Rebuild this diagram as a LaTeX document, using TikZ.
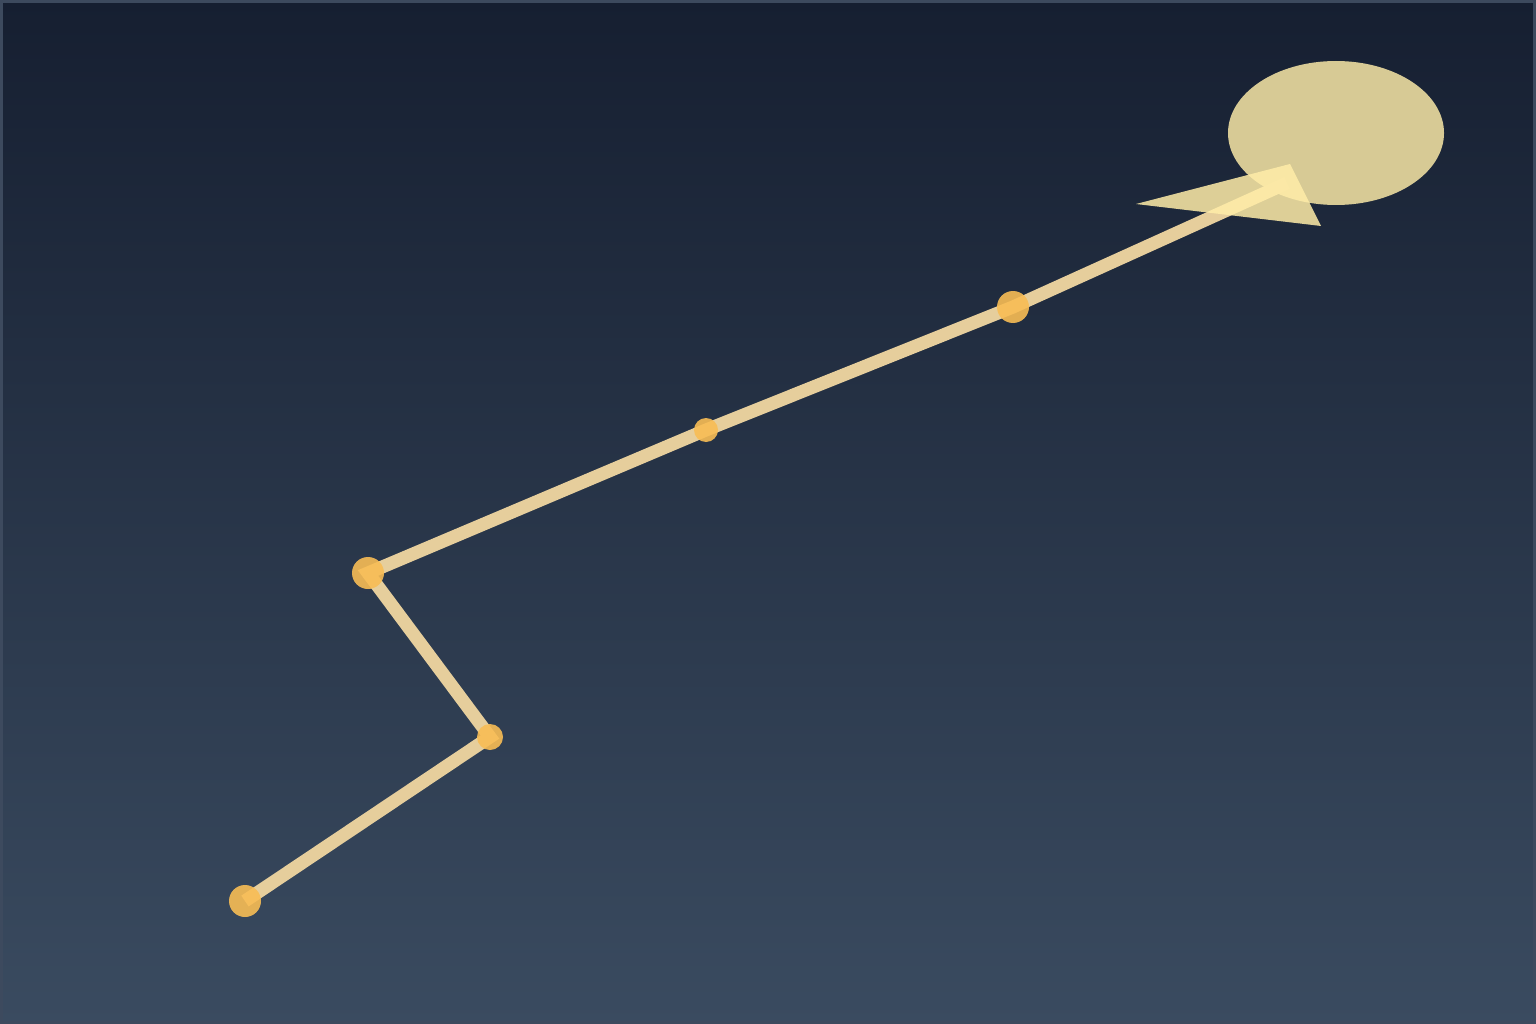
\documentclass[tikz,border=0pt]{standalone}
\usetikzlibrary{shapes.geometric}
\definecolor{bgtop}{HTML}{161F31}
\definecolor{bgbot}{HTML}{3A4B60}
\definecolor{frame}{HTML}{3D4A5E}
\definecolor{pathcol}{HTML}{E6CE9C}
\definecolor{dotcol}{HTML}{F8BD55}
\definecolor{ellcol}{HTML}{D7CA95}
\definecolor{tipcol}{HTML}{FFEDA8}
\tikzset{
  dotnode/.style={circle,fill=dotcol,fill opacity=0.9,inner sep=0pt,minimum size=#1},
  trail/.style={draw=pathcol,line width=13pt,line join=miter,line cap=butt}
}
\begin{document}
\begin{tikzpicture}[x=1pt,y=-1pt]
\useasboundingbox (0,0) rectangle (1536,1024);
\shade[top color=bgtop,bottom color=bgbot] (0,0) rectangle (1536,1024);
\draw[frame,line width=3pt] (1.5,1.5) rectangle (1534.5,1022.5);
% goal ellipse
\node[ellipse,fill=ellcol,inner sep=0pt,minimum width=216pt,minimum height=144pt] (goal) at (1336,133) {};
% path points
\coordinate (p1) at (245,901);
\coordinate (p2) at (490,737);
\coordinate (p3) at (368,573);
\coordinate (p4) at (706,430);
\coordinate (p5) at (1013,307);
\coordinate (p6) at (1287,183);
\draw[trail] (p1) -- (p2) -- (p3) -- (p4) -- (p5) -- (p6);
% arrow tip
\fill[tipcol,fill opacity=0.85] (1136,204) -- (1290,164) -- (1321,226) -- cycle;
% dots
\node[dotnode=32pt] (d1) at (p1) {};
\node[dotnode=26pt] (d2) at (p2) {};
\node[dotnode=32pt] (d3) at (p3) {};
\node[dotnode=24pt] (d4) at (p4) {};
\node[dotnode=32pt] (d5) at (p5) {};
\end{tikzpicture}
\end{document}
